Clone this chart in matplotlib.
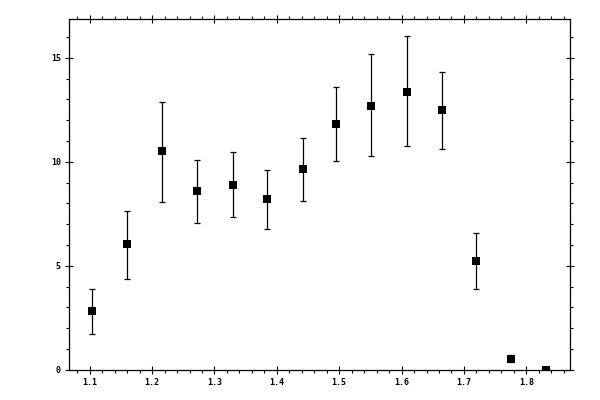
import numpy as np
import matplotlib
matplotlib.use("Agg")
import matplotlib.pyplot as plt
from matplotlib.ticker import MultipleLocator

# values
x_vals = [1.104, 1.160, 1.216, 1.2725, 1.329, 1.385, 1.4415, 1.495,
          1.5515, 1.608, 1.664, 1.720, 1.776, 1.832]
y_vals = [2.81, 6.03, 10.50, 8.58, 8.91, 8.20, 9.65, 11.80,
          12.71, 13.38, 12.47, 5.21, 0.53, 0.0]
y_upper = [3.87, 7.66, 12.90, 10.10, 10.48, 9.63, 11.17, 13.58,
           15.18, 16.03, 14.31, 6.56, 0.70, 0.0]
y_lower = [1.70, 4.39, 8.06, 7.04, 7.33, 6.75, 8.10, 10.02,
           10.26, 10.74, 10.60, 3.87, 0.36, 0.0]

x_ticks = [1.1, 1.2, 1.3, 1.4, 1.5, 1.6, 1.7, 1.8]
y_ticks = [0, 5, 10, 15]

x = np.array(x_vals)
y = np.array(y_vals)
err = np.array([y - np.array(y_lower), np.array(y_upper) - y])

fig = plt.figure(figsize=(6, 4), dpi=100)
ax = fig.add_axes([69 / 600, 30 / 400, 501 / 600, 351 / 400])

# error bars with caps first, square markers on top
ax.errorbar(x, y, yerr=err, fmt='none', ecolor='black',
            elinewidth=0.9, capsize=1.9, capthick=0.9)
ax.plot(x, y, 's', color='black', markersize=5.2, markeredgewidth=0)

ax.set_xlim(1.0668, 1.870)
ax.set_ylim(-0.01, 16.87)

ax.set_xticks(x_ticks)
ax.set_xticklabels([f"{t:.1f}" for t in x_ticks])
ax.set_yticks(y_ticks)
ax.set_yticklabels([str(t) for t in y_ticks])
ax.xaxis.set_minor_locator(MultipleLocator(0.02))
ax.yaxis.set_minor_locator(MultipleLocator(1))

ax.tick_params(which='major', direction='inout', length=5.8, width=0.8,
               top=True, right=True, pad=3, labelsize=6)
ax.tick_params(which='minor', direction='out', length=2.4, width=0.8,
               top=True, right=True)
for lab in ax.get_xticklabels() + ax.get_yticklabels():
    lab.set_fontfamily('DejaVu Sans Mono')
    lab.set_fontweight('bold')

for sp in ax.spines.values():
    sp.set_linewidth(0.9)

fig.savefig("out.png", dpi=100)
